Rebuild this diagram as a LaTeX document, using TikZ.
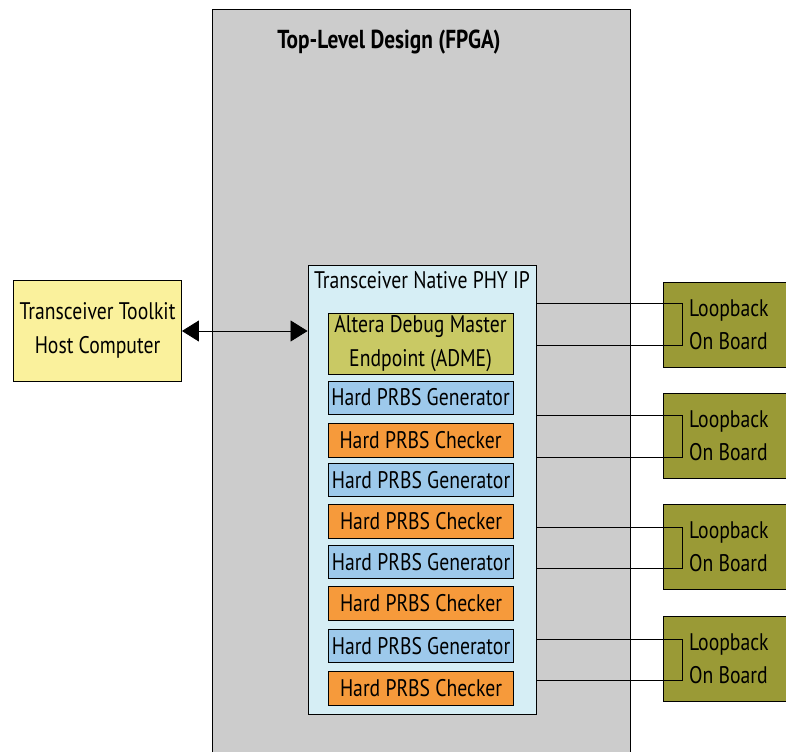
\documentclass[tikz,border=0pt]{standalone}
\usepackage{fontspec}
\setmainfont{PT Sans}[FakeStretch=0.82]
\usetikzlibrary{arrows.meta,calc}
\definecolor{fpgagray}{HTML}{CCCCCC}
\definecolor{phyblue}{HTML}{D6EEF5}
\definecolor{admecol}{HTML}{C9C964}
\definecolor{gencol}{HTML}{9DC9EB}
\definecolor{chkcol}{HTML}{F69A3B}
\definecolor{hostcol}{HTML}{FAF19C}
\definecolor{loopcol}{HTML}{9A9A36}
\tikzset{
  box/.style={draw=black, line width=0.9pt, inner sep=0pt, align=center, font=\fontsize{24}{34}\selectfont},
  genbox/.style={box, fill=gencol, minimum width=185pt, minimum height=33pt},
  chkbox/.style={box, fill=chkcol, minimum width=185pt, minimum height=34pt},
  loopbox/.style={draw=black, line width=0.9pt, fill=loopcol, inner sep=0pt, minimum width=123pt, minimum height=85pt},
  wire/.style={draw=black, line width=0.8pt},
  txt/.style={inner sep=0pt, font=\fontsize{24}{33}\selectfont, align=left}
}
\begin{document}
\begin{tikzpicture}[x=1pt,y=-1pt]
\useasboundingbox (0,0) rectangle (786,752);
\fill[white] (0,0) rectangle (786,752);
% FPGA
\fill[fpgagray] (212,9) rectangle (630,752);
\draw[line width=0.9pt] (212,752) -- (212,9) -- (630,9) -- (630,752);
\node[inner sep=0pt, font=\bfseries\fontsize{26}{30}\selectfont] (fpgatitle) at (389,42) {Top-Level Design (FPGA)};
% PHY
\node[draw=black, line width=0.9pt, fill=phyblue, minimum width=228pt, minimum height=449pt, inner sep=0pt] (phy) at (422,489.5) {};
\node[txt] (phytitle) at (422,280) {Transceiver Native PHY IP};
% ADME and generators/checkers
\node[box, fill=admecol, minimum width=185pt, minimum height=61pt] (adme) at (420.5,343.5) {Altera Debug Master\\Endpoint (ADME)};
\node[genbox] (g1) at (420.5,397.5) {Hard PRBS Generator};
\node[chkbox] (c1) at (420.5,440) {Hard PRBS Checker};
\node[genbox] (g2) at (421,480) {Hard PRBS Generator};
\node[chkbox] (c2) at (421,521) {Hard PRBS Checker};
\node[genbox] (g3) at (421,562) {Hard PRBS Generator};
\node[chkbox] (c3) at (421,603.5) {Hard PRBS Checker};
\node[genbox] (g4) at (421,646) {Hard PRBS Generator};
\node[chkbox] (c4) at (421,688.5) {Hard PRBS Checker};
% Host
\node[box, fill=hostcol, minimum width=168pt, minimum height=101pt] (host) at (97.5,330.5) {Transceiver Toolkit\\Host Computer};
\draw[line width=0.8pt, {Triangle[length=17pt,width=21pt]}-{Triangle[length=17pt,width=21pt]}] (host.east |- 0,331) -- (phy.west |- 0,331);
% Loopback boxes
\foreach \i/\yc/\ya/\yb in {1/324.5/303/345, 2/436/415/457, 3/547/527/568, 4/659/639/680}{
  \node[loopbox] (lb\i) at (724.5,\yc) {};
  \node[txt, anchor=west] (lbt\i) at (689,\yc) {Loopback\\On Board};
  \coordinate (lp\i) at (682,\yc);
  \draw[wire] (phy.east |- 0,\ya) -- (lp\i |- 0,\ya) -- (lp\i |- 0,\yb) -- (phy.east |- 0,\yb);
}
\end{tikzpicture}
\end{document}
